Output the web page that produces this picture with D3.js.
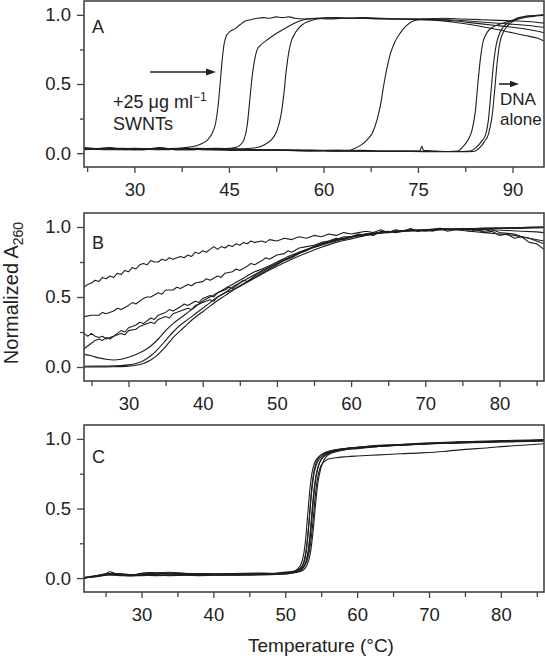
<!DOCTYPE html>
<html><head><meta charset="utf-8">
<script src="https://cdn.jsdelivr.net/npm/d3@7"></script>
<style>
body{margin:0;background:#fff}
svg{display:block}
text{font-family:"Liberation Sans",Arial,Helvetica,sans-serif;fill:#222}
</style>
</head><body>
<svg id="chart" width="545" height="659"></svg>
<script>
// ---------------- DATA ----------------
const xTicksA = [30, 45, 60, 75, 90];
const xMinorA = [22.5, 37.5, 52.5, 67.5, 82.5];
const xTicksBC = [30, 40, 50, 60, 70, 80];
const xMinorBC = [25, 35, 45, 55, 65, 75, 85];
const yTicks = [0, 0.5, 1.0];
const yMinor = [0.25, 0.75];

// Panel A series [temperature, normalized A260]
const A1 = [[22,0.035],[24,0.03],[26,0.04],[28,0.03],[30,0.035],[32,0.03],[34,0.04],[36,0.03],[38,0.04],[39.5,0.05],[40.5,0.065],[41.5,0.09],[42.3,0.14],[42.9,0.22],[43.3,0.35],[43.6,0.5],[43.9,0.66],[44.2,0.78],[44.6,0.85],[45.2,0.88],[46,0.9],[46.8,0.93],[47.6,0.955],[48.5,0.965],[49.5,0.975],[50.5,0.98],[51.5,0.975],[52.5,0.985],[53.5,0.98],[54.5,0.985],[55.5,0.975],[57,0.97],[59,0.975],[61,0.97],[63,0.975],[66,0.975],[69,0.97],[72,0.97],[75,0.965],[78,0.96],[81,0.945],[84,0.925],[87,0.9],[90,0.87],[92,0.85],[94,0.83],[95,0.81]];
const A2 = [[22,0.03],[25,0.035],[28,0.025],[31,0.03],[34,0.035],[37,0.03],[40,0.035],[43,0.03],[45,0.035],[46,0.04],[46.8,0.06],[47.4,0.1],[47.9,0.2],[48.3,0.38],[48.7,0.56],[49.1,0.68],[49.5,0.75],[50,0.78],[50.8,0.81],[51.7,0.84],[52.7,0.87],[53.8,0.9],[55,0.93],[56.2,0.955],[57.5,0.97],[59,0.975],[61,0.98],[63,0.975],[66,0.98],[69,0.975],[72,0.97],[75,0.97],[78,0.965],[81,0.955],[84,0.94],[87,0.925],[90,0.91],[93,0.89],[95,0.87]];
const A3 = [[22,0.04],[25,0.03],[28,0.035],[31,0.03],[34,0.03],[37,0.035],[40,0.03],[43,0.035],[46,0.03],[48.5,0.035],[49.8,0.045],[50.8,0.065],[51.8,0.1],[52.6,0.16],[53.2,0.26],[53.7,0.42],[54.1,0.6],[54.5,0.73],[54.9,0.81],[55.4,0.86],[56,0.9],[56.7,0.93],[57.5,0.95],[58.5,0.965],[60,0.975],[62,0.98],[65,0.975],[68,0.975],[71,0.97],[74,0.97],[77,0.97],[80,0.965],[83,0.955],[86,0.945],[89,0.935],[92,0.925],[95,0.91]];
const A4 = [[22,0.03],[26,0.035],[30,0.025],[34,0.03],[38,0.03],[42,0.025],[46,0.03],[50,0.025],[54,0.025],[58,0.02],[62,0.02],[64,0.02],[65,0.035],[66,0.06],[67,0.1],[67.8,0.15],[68.5,0.24],[69.1,0.36],[69.6,0.5],[70.1,0.62],[70.7,0.73],[71.4,0.81],[72.2,0.87],[73,0.915],[74,0.95],[75,0.965],[76.5,0.97],[79,0.975],[82,0.97],[85,0.965],[88,0.96],[91,0.955],[93,0.95],[95,0.94]];
const A5 = [[22,0.03],[26,0.03],[30,0.025],[34,0.03],[38,0.025],[42,0.03],[46,0.025],[50,0.02],[54,0.02],[58,0.02],[62,0.015],[66,0.02],[70,0.015],[73,0.015],[75.3,0.015],[75.6,0.05],[75.9,0.02],[78,0.015],[80,0.012],[81.3,0.015],[82.2,0.05],[83,0.1],[83.6,0.17],[84.1,0.3],[84.5,0.5],[84.9,0.68],[85.3,0.8],[85.8,0.86],[86.5,0.9],[87.5,0.925],[88.5,0.94],[89.5,0.955],[90.5,0.965],[91.5,0.975],[92.5,0.985],[93.5,0.99],[95,0.995]];
const A6 = [[22,0.025],[26,0.035],[30,0.03],[34,0.025],[38,0.03],[42,0.025],[46,0.02],[50,0.025],[54,0.02],[58,0.015],[62,0.02],[66,0.015],[70,0.015],[74,0.015],[78,0.012],[82,0.012],[83.2,0.015],[84.2,0.04],[85,0.08],[85.7,0.13],[86.2,0.25],[86.6,0.45],[87,0.65],[87.4,0.78],[87.9,0.86],[88.5,0.91],[89.2,0.94],[90,0.96],[91,0.98],[92,0.99],[93.5,0.995],[95,1.0]];
const A7 = [[22,0.03],[26,0.025],[30,0.03],[34,0.03],[38,0.025],[42,0.03],[46,0.025],[50,0.02],[54,0.02],[58,0.02],[62,0.015],[66,0.015],[70,0.012],[74,0.012],[78,0.01],[82,0.01],[83.8,0.012],[84.8,0.04],[85.5,0.08],[86.2,0.14],[86.8,0.28],[87.2,0.47],[87.6,0.67],[88,0.8],[88.5,0.87],[89.2,0.92],[90,0.95],[91,0.975],[92.2,0.99],[93.5,0.995],[95,1.0]];

// Panel B series (B1-B4 noisy, B5-B7 smooth)
const B1 = [[24,0.57],[24.5,0.59],[25,0.6],[25.5,0.62],[26,0.61],[26.5,0.64],[27,0.63],[27.5,0.65],[28,0.64],[28.5,0.67],[29,0.66],[29.5,0.69],[30,0.68],[30.5,0.71],[31,0.7],[31.5,0.73],[32,0.74],[32.5,0.73],[33,0.76],[33.5,0.75],[34,0.75],[34.5,0.77],[35,0.76],[35.5,0.78],[36,0.77],[37,0.79],[37.5,0.78],[38,0.8],[38.5,0.79],[39,0.82],[39.5,0.81],[40,0.83],[40.5,0.82],[41,0.84],[41.5,0.86],[42,0.84],[42.5,0.86],[43,0.85],[43.5,0.87],[44,0.86],[44.5,0.88],[45,0.87],[45.5,0.89],[46,0.88],[46.5,0.9],[47,0.89],[48,0.9],[48.5,0.89],[49,0.91],[50,0.9],[51,0.92],[52,0.91],[53,0.93],[54,0.92],[55,0.94],[56,0.93],[57,0.95],[58,0.94],[59,0.96],[60,0.95],[61,0.96],[62,0.97],[63,0.96],[64,0.98],[65,0.96],[66,0.98],[67,0.97],[68,0.99],[69,0.97],[70,0.98],[71,0.97],[72,0.99],[73,0.97],[74,0.98],[75,0.99],[76,0.97],[77,0.98],[78,0.96],[79,0.97],[80,0.94],[81,0.95],[82,0.92],[83,0.93],[84,0.89],[85,0.88],[86,0.84]];
const B2 = [[24,0.36],[25,0.37],[26,0.37],[26.5,0.39],[27,0.38],[28,0.4],[28.5,0.42],[29,0.41],[30,0.44],[30.5,0.46],[31,0.45],[32,0.49],[32.5,0.5],[33,0.5],[34,0.53],[34.5,0.52],[35,0.55],[36,0.55],[36.5,0.57],[37,0.56],[38,0.59],[38.5,0.58],[39,0.6],[40,0.61],[40.5,0.63],[41,0.62],[42,0.65],[42.5,0.64],[43,0.67],[44,0.68],[44.5,0.7],[45,0.69],[46,0.72],[46.5,0.74],[47,0.73],[48,0.76],[48.5,0.78],[49,0.77],[50,0.8],[51,0.81],[51.5,0.83],[52,0.82],[53,0.85],[54,0.86],[55,0.87],[56,0.89],[57,0.9],[58,0.92],[59,0.91],[60,0.93],[61,0.94],[62,0.95],[63,0.94],[64,0.97],[65,0.96],[66,0.97],[68,0.98],[69,0.97],[70,0.98],[72,0.99],[74,0.98],[76,0.985],[78,0.97],[79,0.98],[80,0.96],[82,0.95],[83,0.93],[84,0.92],[85,0.9],[86,0.88]];
const B3 = [[24,0.24],[24.5,0.22],[25,0.24],[25.5,0.22],[26,0.21],[26.5,0.22],[27,0.2],[27.5,0.21],[28,0.22],[28.5,0.24],[29,0.26],[29.5,0.25],[30,0.28],[31,0.3],[31.5,0.32],[32,0.31],[33,0.35],[33.5,0.34],[34,0.37],[35,0.39],[35.5,0.41],[36,0.4],[37,0.43],[37.5,0.45],[38,0.44],[39,0.47],[39.5,0.46],[40,0.49],[41,0.51],[41.5,0.5],[42,0.53],[43,0.55],[43.5,0.57],[44,0.56],[45,0.6],[45.5,0.62],[46,0.61],[47,0.65],[48,0.68],[49,0.71],[50,0.74],[51,0.77],[52,0.79],[53,0.82],[54,0.84],[55,0.86],[56,0.88],[57,0.9],[58,0.91],[59,0.93],[60,0.93],[61,0.95],[62,0.94],[64,0.96],[65,0.97],[66,0.96],[68,0.98],[70,0.97],[72,0.98],[74,0.98],[76,0.97],[78,0.96],[80,0.95],[82,0.94],[84,0.92],[86,0.9]];
const B4 = [[24,0.13],[24.5,0.15],[25,0.17],[25.5,0.19],[26,0.2],[26.5,0.19],[27,0.21],[27.5,0.2],[28,0.22],[29,0.24],[29.5,0.23],[30,0.26],[31,0.27],[31.5,0.29],[32,0.3],[33,0.32],[33.5,0.31],[34,0.34],[35,0.36],[35.5,0.35],[36,0.38],[37,0.4],[38,0.42],[38.5,0.41],[39,0.44],[40,0.46],[41,0.48],[41.5,0.47],[42,0.5],[43,0.53],[44,0.55],[45,0.58],[46,0.61],[47,0.64],[48,0.67],[49,0.7],[50,0.73],[51,0.76],[52,0.78],[53,0.81],[54,0.83],[55,0.86],[56,0.88],[57,0.89],[58,0.91],[59,0.92],[60,0.93],[62,0.95],[64,0.96],[66,0.97],[68,0.975],[70,0.98],[73,0.985],[76,0.985],[79,0.98],[81,0.975],[83,0.97],[85,0.965],[86,0.96]];
const B5 = [[24,0.09],[25,0.08],[26,0.065],[27,0.055],[28,0.05],[29,0.055],[30,0.07],[31,0.09],[32,0.115],[33,0.15],[34,0.2],[35,0.26],[36,0.31],[37,0.35],[38,0.39],[39,0.43],[40,0.47],[41,0.5],[42,0.53],[43,0.56],[44,0.59],[45,0.62],[46,0.65],[47,0.68],[48,0.7],[50,0.75],[52,0.8],[54,0.84],[56,0.875],[58,0.905],[60,0.93],[62,0.95],[64,0.96],[66,0.97],[68,0.975],[70,0.98],[74,0.985],[78,0.99],[82,0.99],[86,0.995]];
const B6 = [[24,0.005],[26,0.006],[28,0.008],[29,0.01],[30,0.015],[31,0.025],[32,0.045],[33,0.08],[34,0.13],[35,0.19],[36,0.25],[37,0.3],[38,0.34],[39,0.38],[40,0.42],[41,0.46],[42,0.5],[43,0.53],[44,0.57],[45,0.6],[46,0.63],[47,0.66],[48,0.69],[50,0.74],[52,0.79],[54,0.835],[56,0.87],[58,0.9],[60,0.925],[62,0.945],[64,0.96],[66,0.97],[70,0.98],[74,0.985],[78,0.99],[82,0.995],[86,1.0]];
const B7 = [[24,0.0],[26,0.0],[28,0.002],[30,0.006],[31,0.012],[32,0.025],[33,0.05],[34,0.09],[35,0.145],[36,0.21],[37,0.26],[38,0.31],[39,0.355],[40,0.395],[41,0.435],[42,0.475],[43,0.51],[44,0.545],[45,0.575],[46,0.605],[47,0.635],[48,0.665],[50,0.72],[52,0.77],[54,0.815],[56,0.855],[58,0.89],[60,0.915],[62,0.94],[64,0.955],[66,0.965],[70,0.975],[74,0.985],[78,0.99],[82,0.995],[86,1.0]];

// Panel C series
const C1 = [[22,0.0],[23,0.008],[24,0.018],[25,0.03],[25.6,0.045],[26.2,0.035],[27,0.028],[28.5,0.022],[30,0.025],[32,0.03],[34,0.028],[36,0.025],[38,0.027],[40,0.024],[42,0.026],[44,0.028],[46,0.03],[48,0.032],[49.5,0.035],[50.5,0.04],[51.3,0.05],[51.9,0.075],[52.4,0.13],[52.8,0.26],[53.1,0.44],[53.4,0.62],[53.7,0.75],[54.1,0.83],[54.6,0.87],[55.3,0.895],[56.3,0.915],[58,0.93],[60,0.94],[63,0.95],[66,0.96],[70,0.97],[74,0.975],[78,0.98],[82,0.985],[86,0.99]];
const C2 = [[22,0.005],[23,0.012],[24,0.02],[25,0.028],[26,0.032],[27,0.026],[28.5,0.02],[30,0.035],[31,0.04],[32,0.038],[34,0.042],[36,0.035],[38,0.03],[40,0.028],[42,0.03],[44,0.032],[46,0.028],[48,0.03],[49.5,0.033],[50.5,0.038],[51.5,0.048],[52.1,0.07],[52.6,0.12],[53,0.24],[53.3,0.4],[53.6,0.58],[53.9,0.72],[54.3,0.81],[54.8,0.86],[55.5,0.89],[56.5,0.91],[58,0.925],[60,0.935],[63,0.945],[66,0.955],[70,0.965],[74,0.97],[78,0.975],[82,0.98],[86,0.985]];
const C3 = [[22,0.002],[23,0.006],[24,0.012],[25,0.02],[26,0.025],[27,0.03],[28.5,0.025],[30,0.02],[32,0.018],[34,0.02],[36,0.022],[38,0.02],[40,0.022],[42,0.02],[44,0.022],[46,0.025],[48,0.027],[49.5,0.03],[50.5,0.034],[51.5,0.042],[52.3,0.06],[52.8,0.1],[53.2,0.2],[53.5,0.35],[53.8,0.53],[54.1,0.68],[54.5,0.79],[55,0.85],[55.7,0.885],[56.7,0.905],[58,0.92],[60,0.93],[63,0.945],[66,0.955],[70,0.965],[74,0.975],[78,0.98],[82,0.985],[86,0.99]];
const C4 = [[22,0.0],[23,0.01],[24,0.015],[25,0.022],[26,0.028],[27,0.022],[28.5,0.018],[30,0.03],[31,0.034],[33,0.036],[35,0.03],[37,0.028],[39,0.025],[41,0.027],[43,0.03],[45,0.033],[47,0.03],[49,0.035],[50.5,0.04],[51.5,0.05],[52.3,0.07],[52.9,0.12],[53.4,0.25],[53.7,0.42],[54,0.6],[54.3,0.73],[54.7,0.82],[55.2,0.87],[56,0.9],[57,0.915],[58.5,0.93],[60,0.94],[63,0.955],[66,0.96],[70,0.97],[74,0.98],[78,0.985],[82,0.99],[86,0.995]];
const C5 = [[22,0.003],[23,0.01],[24,0.016],[25,0.024],[26,0.02],[27,0.018],[28.5,0.015],[30,0.018],[32,0.02],[34,0.018],[36,0.02],[38,0.018],[40,0.02],[42,0.022],[44,0.02],[46,0.022],[48,0.024],[49.5,0.028],[50.5,0.032],[51.5,0.04],[52.4,0.055],[53,0.09],[53.5,0.18],[53.9,0.35],[54.2,0.52],[54.5,0.67],[54.9,0.78],[55.4,0.85],[56.1,0.89],[57.2,0.91],[58.5,0.925],[60,0.935],[63,0.945],[66,0.955],[70,0.965],[74,0.975],[78,0.98],[82,0.985],[86,0.99]];
const C6 = [[22,0.0],[23,0.01],[24,0.02],[25,0.03],[26,0.035],[27,0.03],[28.5,0.025],[30,0.028],[32,0.032],[34,0.035],[36,0.03],[38,0.032],[40,0.028],[42,0.03],[44,0.034],[46,0.036],[48,0.035],[49.5,0.04],[50.5,0.045],[51.5,0.055],[52.4,0.075],[53,0.12],[53.5,0.24],[53.9,0.43],[54.2,0.6],[54.5,0.72],[54.9,0.8],[55.4,0.835],[56,0.855],[57,0.865],[58.5,0.872],[60,0.877],[63,0.885],[66,0.893],[69,0.9],[72,0.91],[75,0.925],[78,0.935],[81,0.948],[84,0.958],[86,0.965]];
const C7 = [[22,0.0],[24,0.015],[25,0.025],[26,0.03],[27,0.025],[29,0.02],[31,0.025],[33,0.03],[35,0.032],[37,0.03],[40,0.03],[43,0.028],[46,0.03],[48,0.032],[50,0.037],[51.2,0.045],[52,0.065],[52.6,0.11],[53,0.22],[53.3,0.4],[53.6,0.6],[53.9,0.74],[54.3,0.83],[54.9,0.88],[55.8,0.905],[57,0.92],[59,0.935],[62,0.945],[65,0.955],[68,0.96],[72,0.97],[76,0.975],[80,0.98],[86,0.985]];

const seriesA = [A1, A2, A3, A4, A5, A6, A7];
const seriesB = [B1, B2, B3, B4, B5, B6, B7];
const seriesC = [C1, C2, C3, C4, C5, C6, C7];
const noisyB = [true, true, true, true, false, false, false];

// ---------------- DRAW ----------------
const svg = d3.select("#chart");
const L = 84, R = 544;
const FONT = 18.5;
const frameColor = "#444";

const panels = [
  {id:"A", top:1,   bottom:167, xd:[22,95], major:xTicksA,  minor:xMinorA,  series:seriesA, noisy:null,   ly:33},
  {id:"B", top:213, bottom:381, xd:[24,86], major:xTicksBC, minor:xMinorBC, series:seriesB, noisy:noisyB, ly:249},
  {id:"C", top:425, bottom:592, xd:[22,86], major:xTicksBC, minor:xMinorBC, series:seriesC, noisy:null,   ly:463}
];

const defs = svg.append("defs");

panels.forEach(p => {
  const x = d3.scaleLinear().domain(p.xd).range([L, R]);
  const y = d3.scaleLinear().domain([-0.1, 1.1]).range([p.bottom, p.top]);
  const g = svg.append("g");

  defs.append("clipPath").attr("id", "clip" + p.id)
    .append("rect").attr("x", L).attr("y", p.top).attr("width", R - L).attr("height", p.bottom - p.top);

  const smooth = d3.line().x(d => x(d[0])).y(d => y(d[1])).curve(d3.curveMonotoneX);
  const jagged = d3.line().x(d => x(d[0])).y(d => y(d[1])).curve(d3.curveLinear);
  g.append("g").attr("clip-path", `url(#clip${p.id})`)
    .selectAll("path").data(p.series).join("path")
    .attr("d", (d, i) => (p.noisy && p.noisy[i]) ? jagged(d) : smooth(d))
    .attr("fill", "none")
    .attr("stroke", "#1e1e1e")
    .attr("stroke-width", 1.1)
    .attr("stroke-linejoin", "round");

  const xa = g.append("g").attr("transform", `translate(0,${p.bottom})`)
    .call(d3.axisBottom(x).tickValues(p.major).tickSize(6).tickPadding(10).tickFormat(d3.format("d")));
  const xm = g.append("g").attr("transform", `translate(0,${p.bottom})`)
    .call(d3.axisBottom(x).tickValues(p.minor).tickSize(5).tickFormat(""));
  const ya = g.append("g").attr("transform", `translate(${L},0)`)
    .call(d3.axisLeft(y).tickValues(yTicks).tickSize(7).tickPadding(6).tickFormat(d3.format(".1f")));
  const ym = g.append("g").attr("transform", `translate(${L},0)`)
    .call(d3.axisLeft(y).tickValues(yMinor).tickSize(4).tickFormat(""));

  [xa, xm, ya, ym].forEach(a => {
    a.select(".domain").remove();
    a.selectAll("line").attr("stroke", frameColor).attr("stroke-width", 1.3);
    a.selectAll("text").attr("font-size", FONT).attr("font-family", '"Liberation Sans",Arial,sans-serif').attr("fill", "#222");
    a.attr("font-size", null).attr("font-family", null);
  });

  g.append("rect").attr("x", L).attr("y", p.top).attr("width", R - L).attr("height", p.bottom - p.top)
    .attr("fill", "none").attr("stroke", frameColor).attr("stroke-width", 1.6);

  g.append("text").attr("x", L + 8).attr("y", p.ly).attr("font-size", 18).text(p.id);
});

// Annotations in panel A
const ann = svg.append("g");
ann.append("line").attr("x1", 150).attr("x2", 208).attr("y1", 72).attr("y2", 72)
  .attr("stroke", "#222").attr("stroke-width", 1.6);
ann.append("path").attr("d", "M216,72 L206,68.5 L206,75.5 Z").attr("fill", "#222");
const t1 = ann.append("text").attr("x", 113).attr("y", 108).attr("font-size", 18);
t1.append("tspan").text("+25 \u03BCg ml");
t1.append("tspan").attr("dy", -7).attr("font-size", 12).text("\u22121");
ann.append("text").attr("x", 113).attr("y", 130).attr("font-size", 18).text("SWNTs");

ann.append("line").attr("x1", 499).attr("x2", 511).attr("y1", 84).attr("y2", 84)
  .attr("stroke", "#222").attr("stroke-width", 1.6);
ann.append("path").attr("d", "M519,84 L510,80.8 L510,87.2 Z").attr("fill", "#222");
ann.append("text").attr("x", 500).attr("y", 105).attr("font-size", 17).text("DNA");
ann.append("text").attr("x", 500).attr("y", 125).attr("font-size", 17).text("alone");

// Axis titles
const yl = svg.append("text").attr("transform", "translate(18,293) rotate(-90)")
  .attr("text-anchor", "middle").attr("font-size", 20);
yl.append("tspan").text("Normalized A");
yl.append("tspan").attr("dy", 5).attr("font-size", 14).text("260");

svg.append("text").attr("x", 321).attr("y", 652).attr("text-anchor", "middle")
  .attr("font-size", 19).text("Temperature (\u00B0C)");
</script>
</body></html>
